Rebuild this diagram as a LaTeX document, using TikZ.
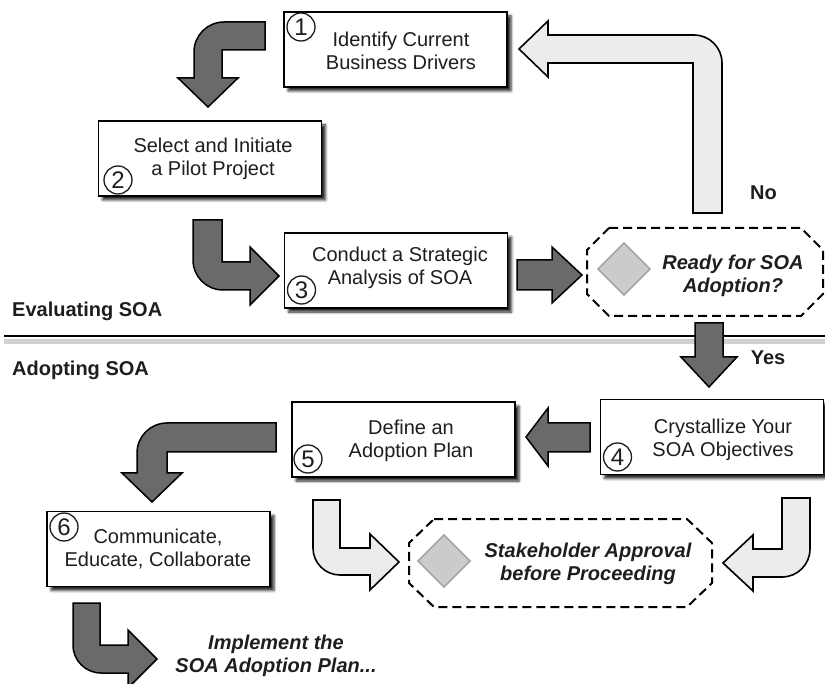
\documentclass[tikz,border=0pt]{standalone}
\usepackage{fontspec}
\setmainfont{Liberation Sans}
\usetikzlibrary{shadows.blur}
\definecolor{darkfill}{HTML}{6A6A6A}
\definecolor{lightfill}{HTML}{ECECEC}
\definecolor{diafill}{HTML}{CBCBCB}
\definecolor{diaedge}{HTML}{A5A5A5}
\definecolor{txtcol}{HTML}{1E1E1E}
\begin{document}
\begin{tikzpicture}[x=1pt,y=-1pt,
  box/.style={draw=black, line width=1.4pt, fill=white, minimum width=223pt, minimum height=75pt, inner sep=0pt,
    blur shadow={shadow xshift=4pt, shadow yshift=-4pt, shadow blur radius=2.5pt, shadow opacity=85}},
  txt/.style={align=center, font=\fontsize{20}{23}\selectfont, text=txtcol, inner sep=0pt},
  btxt/.style={align=center, font=\fontsize{20}{23}\selectfont\bfseries\itshape, text=txtcol, inner sep=0pt},
  lbl/.style={font=\fontsize{20}{23}\selectfont\bfseries, text=txtcol, inner sep=0pt},
  num/.style={circle, draw=txtcol, line width=1.3pt, minimum size=28pt, inner sep=0pt,
    font=\fontsize{24}{24}\selectfont, text=txtcol},
  darrow/.style={fill=darkfill, draw=black, line width=1.5pt, line join=miter},
  larrow/.style={fill=lightfill, draw=black, line width=1.6pt, line join=miter},
  octo/.style={draw=black, line width=2pt, dash pattern=on 9pt off 5pt, fill=white},
  dia/.style={fill=diafill, draw=diaedge, line width=1.5pt}
]
\useasboundingbox (0,0) rectangle (825,684);

% separator line with soft shadow
\draw[line width=5pt, black!18] (4,342) -- (825,342);
\draw[line width=2.2pt] (4,336) -- (825,336);

% section labels
\node[lbl, anchor=base west] (eval) at (12,317) {Evaluating SOA};
\node[lbl, anchor=base west] (adopt) at (12,376) {Adopting SOA};

% dark arrow: box 1 -> box 2
\draw[darrow] (265,22) -- (224,22) .. controls (207.4,22) and (194,35.4) .. (194,52) -- (194,78) -- (178,78) -- (208,107) -- (238,78) -- (222,78) -- (222,50) -- (265,50) -- cycle;
% dark arrow: box 2 -> box 3
\draw[darrow] (193,220) -- (193,260) .. controls (193,276.6) and (206.4,290) .. (223,290) -- (250,290) -- (250,305) -- (279,276) -- (250,247) -- (250,262) -- (222,262) -- (222,220) -- cycle;
% dark arrow: box 3 -> decision
\draw[darrow] (517,260) -- (552,260) -- (552,247) -- (582,275) -- (552,303) -- (552,290) -- (517,290) -- cycle;
% light arrow: decision -> box 1 (No)
\draw[larrow] (693,213) -- (693,63) -- (548,63) -- (548,77) -- (519,49) -- (548,21) -- (548,35) -- (694,35) .. controls (709.5,35) and (722,47.5) .. (722,63) -- (722,213) -- cycle;
% dark arrow: decision -> box 4 (Yes)
\draw[darrow] (695,323) -- (723,323) -- (723,357) -- (737,357) -- (709,387) -- (681,357) -- (695,357) -- cycle;
% dark arrow: box 4 -> box 5
\draw[darrow] (590,423) -- (548,423) -- (548,408) -- (526,437) -- (548,466) -- (548,452) -- (590,452) -- cycle;
% dark arrow: box 5 -> box 6
\draw[darrow] (276,423) -- (167,423) .. controls (150.4,423) and (137,436.4) .. (137,453) -- (137,473) -- (122,473) -- (152,502) -- (182,473) -- (167,473) -- (167,452) -- (276,452) -- cycle;
% dark arrow: box 6 -> implement
\draw[darrow] (73,603) -- (73,645) .. controls (73,660.5) and (85.5,673) .. (101,673) -- (128,673) -- (128,688) -- (157,659) -- (128,630) -- (128,645) -- (100,645) -- (100,603) -- cycle;
% light arrow: box 5 -> stakeholder approval
\draw[larrow] (313,500) -- (313,548) .. controls (313,562.9) and (325.1,575) .. (340,575) -- (370,575) -- (370,590) -- (399,562) -- (370,534) -- (370,548) -- (340,548) -- (340,500) -- cycle;
% light arrow: box 4 -> stakeholder approval
\draw[larrow] (810,498) -- (810,549) .. controls (810,564.5) and (797.5,577) .. (782,577) -- (753,577) -- (753,591) -- (723,563) -- (753,535) -- (753,549) -- (782,549) -- (782,498) -- cycle;

% process boxes
\node[box] (b1) at (395.5,49.5) {};
\node[box] (b2) at (210,158.5) {};
\node[box] (b3) at (396,270.5) {};
\node[box] (b4) at (712,437) {};
\node[box] (b5) at (403.5,439.5) {};
\node[box] (b6) at (158.5,549) {};

\node[txt] (t1) at (401,51) {Identify Current\\Business Drivers};
\node[txt] (t2) at (213,159) {Select and Initiate\\a Pilot Project};
\node[txt] (t3) at (400,268) {Conduct a Strategic\\Analysis of SOA};
\node[txt] (t4) at (723,440) {Crystallize Your\\SOA Objectives};
\node[txt] (t5) at (411,441) {Define an\\Adoption Plan};
\node[txt] (t6) at (158,549) {Communicate,\\Educate, Collaborate};

\node[num] (n1) at (301,27) {1};
\node[num] (n2) at (118,180) {2};
\node[num] (n3) at (301.5,290) {3};
\node[num] (n4) at (617.5,457) {4};
\node[num] (n5) at (308,459) {5};
\node[num] (n6) at (64,527) {6};

% decision: ready for SOA adoption
\draw[octo] (609,228) -- (801,228) -- (823,250) -- (823,294) -- (801,316) -- (609,316) -- (587,294) -- (587,250) -- cycle;
\draw[dia] (624,243) -- (650,269) -- (624,295) -- (598,269) -- cycle;
\node[btxt] (ready) at (733,276) {Ready for SOA\\Adoption?};
\node[lbl, anchor=base] (no) at (763.5,200) {No};
\node[lbl, anchor=base] (yes) at (768,365) {Yes};

% stakeholder approval
\draw[octo] (434,519) -- (687,519) -- (712,543) -- (712,583) -- (687,607) -- (434,607) -- (409,583) -- (409,543) -- cycle;
\draw[dia] (444,535) -- (470,561) -- (444,587) -- (418,561) -- cycle;
\node[btxt] (stake) at (588,564) {Stakeholder Approval\\before Proceeding};

% implement
\node[btxt] (impl) at (276,656) {Implement the\\SOA Adoption Plan...};
\end{tikzpicture}
\end{document}
